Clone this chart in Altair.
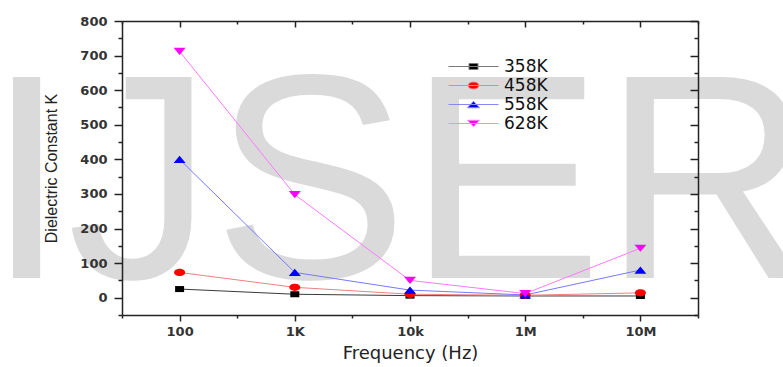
import json
import altair as alt
import pandas as pd

# ---- data ----
freq_labels = ["100", "1K", "10k", "1M", "10M"]
series_names = ["358K", "458K", "558K", "628K"]
k358 = [25, 10, 6, 5, 5]
k458 = [73, 30, 10, 7, 14]
k558 = [400, 73, 22, 8, 80]
k628 = [712, 298, 50, 12, 143]
watermark = "IJSER"

marker_colors = ["#000000", "#ff0000", "#0000ff", "#ff00ff"]
line_colors = ["#3a3a3a", "#f08080", "#7878ff", "#ff78ff"]
legend_line_colors = ["#7a7a7a", "#e88888", "#8888f0", "#ff88ff"]

point_paths = [
    "M-0.75,-0.5H0.75V0.5H-0.75Z",
    "M-0.92,0A0.92,0.61 0 1,0 0.92,0A0.92,0.61 0 1,0 -0.92,0Z",
    "M0,-0.6L1,0.6H-1Z",
    "M0,0.6L1,-0.6H-1Z",
]
legend_paths = [
    "M-5,0H5M-0.9,-0.6H0.9V0.6H-0.9Z",
    "M-5,0H5M-1.1,0A1.1,0.7 0 1,0 1.1,0A1.1,0.7 0 1,0 -1.1,0Z",
    "M-5,0H5M0,-0.65L1.2,0.65H-1.2Z",
    "M-5,0H5M0,0.65L1.2,-0.65H-1.2Z",
]

rows = []
for name, vals in zip(series_names, [k358, k458, k558, k628]):
    for i, v in enumerate(vals):
        rows.append({"idx": i, "freq": freq_labels[i], "value": v, "series": name})
df = pd.DataFrame(rows)
legend_df = pd.DataFrame({"Series": series_names})
wm_df = pd.DataFrame({"t": [watermark]})

W, H = 576, 294
xticks = [i * 0.5 for i in range(-1, 10)]
yticks = list(range(-50, 801, 50))
x_label_expr = "datum.value % 1 == 0 ? " + json.dumps(freq_labels) + "[datum.value] : ''"
y_label_expr = "datum.value % 100 == 0 ? datum.label : ''"

x_tick_size = {"condition": {"test": "datum.value % 1 == 0", "value": 6}, "value": 3}
y_tick_size = {"condition": {"test": "datum.value % 100 == 0", "value": 8}, "value": 4}

AX = "#222222"
FONT = "DejaVu Sans"

x_scale = alt.Scale(domain=[-0.5, 4.5], nice=False, zero=False)
y_scale = alt.Scale(domain=[-50, 800], nice=False, zero=False)

x_axis_main = alt.Axis(
    values=xticks, labelExpr=x_label_expr, tickSize=x_tick_size, tickWidth=1.5,
    tickColor=AX, domainColor=AX, domainWidth=1.5, grid=False, zindex=1,
    labelFont=FONT, labelFontSize=13, labelFontWeight="bold", labelColor="#333333",
    labelPadding=4, labelOverlap=False, labelFlush=False,
    title="Frequency (Hz)", titleFont=FONT, titleFontSize=18, titleFontWeight="normal",
    titleColor=AX, titlePadding=6,
)
y_axis_main = alt.Axis(
    values=yticks, labelExpr=y_label_expr, tickSize=y_tick_size, tickWidth=1.5,
    tickColor=AX, domainColor=AX, domainWidth=1.5, grid=False, zindex=1,
    labelFont=FONT, labelFontSize=13, labelFontWeight="bold", labelColor="#333333",
    labelPadding=7, labelOverlap=False, labelFlush=False,
    title="Dielectric Constant K", titleFont="Liberation Sans", titleFontSize=16,
    titleFontWeight="normal", titleColor=AX, titlePadding=20,
)
x_axis_top = alt.Axis(
    orient="bottom", offset=-H, values=xticks, labels=False, title=None,
    tickSize=x_tick_size, tickWidth=1.5, tickColor=AX, domainColor=AX,
    domainWidth=1.5, grid=False, zindex=1,
)
y_axis_right = alt.Axis(
    orient="left", offset=-W, values=yticks, labels=False, title=None,
    tickSize=y_tick_size, tickWidth=1.5, tickColor=AX, domainColor=AX,
    domainWidth=1.5, grid=False, zindex=1,
)

wm = alt.Chart(wm_df).mark_text(
    font="Liberation Sans", fontSize=292, color="#dadada", align="left",
    baseline="alphabetic",
).encode(text="t:N", x=alt.value(-136), y=alt.value(257))

lines = alt.Chart(df).mark_line(strokeWidth=1).encode(
    x=alt.X("idx:Q", scale=x_scale, axis=x_axis_main),
    y=alt.Y("value:Q", scale=y_scale, axis=y_axis_main),
    color=alt.Color("series:N", scale=alt.Scale(domain=series_names, range=line_colors), legend=None),
    order="idx:Q",
)

points = alt.Chart(df).mark_point(filled=True, size=144, opacity=1, strokeWidth=0).encode(
    x=alt.X("idx:Q", scale=x_scale, axis=x_axis_top),
    y=alt.Y("value:Q", scale=y_scale, axis=y_axis_right),
    fill=alt.Fill("series:N", scale=alt.Scale(domain=series_names, range=marker_colors), legend=None),
    shape=alt.Shape("series:N", scale=alt.Scale(domain=series_names, range=point_paths), legend=None),
)

leg = alt.Legend(
    orient="none", legendX=343, legendY=37, title=None, padding=0,
    labelFont=FONT, labelFontSize=17, labelFontWeight="normal", labelColor="#111111",
    labelOffset=22, symbolSize=100, symbolStrokeWidth=1, rowPadding=1, symbolOffset=0,
)
legend_layer = alt.Chart(legend_df).transform_filter("false").mark_point(
    filled=True, opacity=1, size=100, strokeWidth=1
).encode(
    fill=alt.Fill("Series:N", scale=alt.Scale(domain=series_names, range=marker_colors), legend=leg),
    stroke=alt.Stroke("Series:N", scale=alt.Scale(domain=series_names, range=legend_line_colors), legend=leg),
    shape=alt.Shape("Series:N", scale=alt.Scale(domain=series_names, range=legend_paths), legend=leg),
)

chart = alt.layer(wm, lines, points, legend_layer).resolve_scale(
    fill="independent", shape="independent", stroke="independent"
).resolve_axis(
    x="independent", y="independent"
).properties(
    width=W, height=H,
    autosize=alt.AutoSizeParams(type="none"),
    padding={"left": 122, "top": 21, "right": 85, "bottom": 52},
    background="white",
).configure_view(stroke=None)

chart.save("out.html", embed_options={"renderer": "svg", "actions": False})
